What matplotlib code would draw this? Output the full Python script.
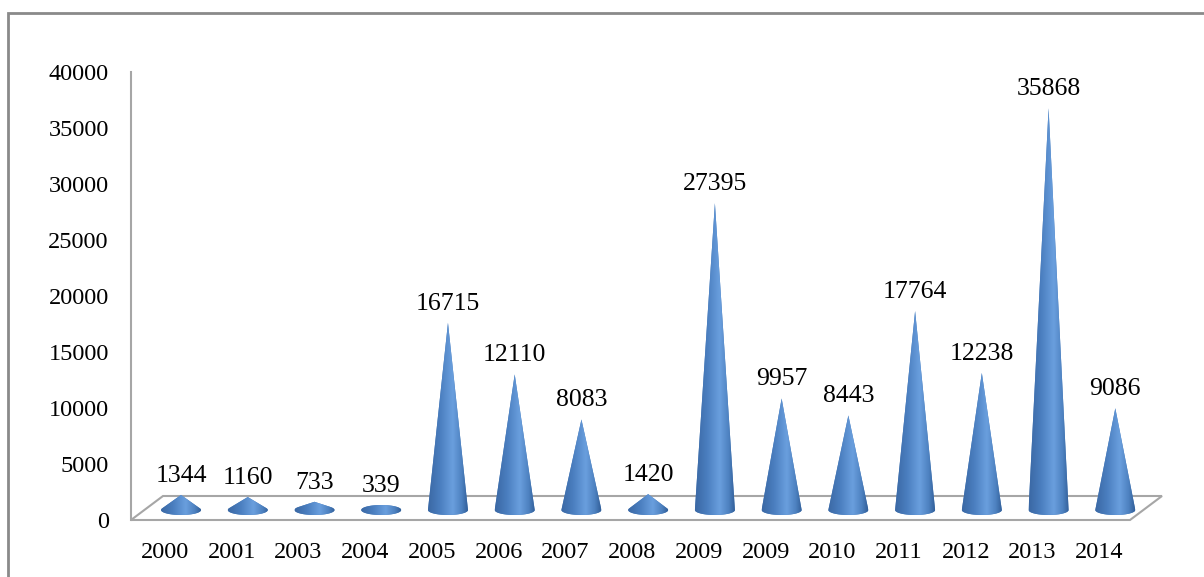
import numpy as np
import matplotlib
matplotlib.use("Agg")
import matplotlib.pyplot as plt
import matplotlib.transforms as mtransforms
from matplotlib.colors import LinearSegmentedColormap
from matplotlib.patches import Polygon, Rectangle

plt.rcParams['font.family'] = ['Liberation Serif', 'DejaVu Serif']

# data
years = ['2000', '2001', '2003', '2004', '2005', '2006', '2007', '2008',
         '2009', '2009', '2010', '2011', '2012', '2013', '2014']
counts = [1344, 1160, 733, 339, 16715, 12110, 8083, 1420,
          27395, 9957, 8443, 17764, 12238, 35868, 9086]
yticks = [0, 5000, 10000, 15000, 20000, 25000, 30000, 35000, 40000]


def convex_hull(points):
    pts = sorted(map(tuple, points))
    def cross(o, a, b):
        return (a[0] - o[0]) * (b[1] - o[1]) - (a[1] - o[1]) * (b[0] - o[0])
    lower, upper = [], []
    for p in pts:
        while len(lower) >= 2 and cross(lower[-2], lower[-1], p) <= 0:
            lower.pop()
        lower.append(p)
    for p in reversed(pts):
        while len(upper) >= 2 and cross(upper[-2], upper[-1], p) <= 0:
            upper.pop()
        upper.append(p)
    return np.array(lower[:-1] + upper[:-1])


W, H = 1204, 577
fig = plt.figure(figsize=(W / 100, H / 100), dpi=100)
left, right = 131 / W, 1130 / W
bottom, top = (H - 520) / H, (H - 72) / H
ax = fig.add_axes([left, bottom, right - left, top - bottom])
xmin, xmax = -0.51, 14.46
ymax = 40000

# pixels per data unit
px_x = W * (right - left) / (xmax - xmin)
px_y = H * (top - bottom) / ymax

# outer frame
fig.add_artist(Rectangle((8 / W, -0.1), 1.2, 1 - 13 / H + 0.1, transform=fig.transFigure,
                         fill=False, ec='#8a8a8a', lw=2))

# floor of the 3d chart
ddx, ddy = 32 / px_x, 24 / px_y
floor = Polygon([(xmin, 0), (xmax, 0), (xmax + ddx, ddy), (xmin + ddx, ddy)], closed=True,
                fc='white', ec='#a6a6a6', lw=1.5, clip_on=False, zorder=1)
ax.add_patch(floor)

cone_shift = mtransforms.offset_copy(ax.transData, fig=fig, x=16, y=10, units='dots')
label_shift = mtransforms.offset_copy(ax.transData, fig=fig, x=16, y=18, units='dots')

cone_cmap = LinearSegmentedColormap.from_list(
    'cone', [(0, '#3b68a4'), (0.3, '#4a7ebf'), (0.62, '#6a9fde'), (0.85, '#4d81c0'), (1, '#33609a')])
grad = np.linspace(0, 1, 200).reshape(1, -1)

hw = 20 / px_x
eh = 5 / px_y
t = np.linspace(0, 2 * np.pi, 90)
for i, v in enumerate(counts):
    pts = np.column_stack([i + hw * np.cos(t), eh * np.sin(t)])
    pts = np.vstack([pts, [i, v]])
    poly = Polygon(convex_hull(pts), closed=True, transform=cone_shift,
                   fc='#4f81bd', ec='none', zorder=3, clip_on=False)
    ax.add_patch(poly)
    im = ax.imshow(grad, cmap=cone_cmap, extent=(i - hw, i + hw, -eh, max(v, eh)),
                   transform=cone_shift, aspect='auto', interpolation='bilinear', zorder=4)
    im.set_clip_box(fig.bbox)
    im.set_clip_path(poly)
    ax.text(i, max(v, eh), str(v), transform=label_shift, ha='center', va='bottom',
            fontsize=18.5, color='black', zorder=5)

ax.set_xlim(xmin, xmax)
ax.set_ylim(0, ymax)
ax.set_xticks(range(len(years)))
ax.set_xticklabels(years)
ax.set_yticks(yticks)
ax.set_yticklabels([str(v) for v in yticks])
ax.tick_params(axis='both', length=0, labelsize=17.5)
ax.tick_params(axis='y', pad=16)
ax.tick_params(axis='x', pad=16)
for s in ['top', 'right', 'bottom']:
    ax.spines[s].set_visible(False)
ax.spines['left'].set_color('#a6a6a6')
ax.spines['left'].set_linewidth(1.5)
ax.spines['left'].set_zorder(2)
ax.patch.set_visible(False)

fig.savefig('out.png', dpi=100)
